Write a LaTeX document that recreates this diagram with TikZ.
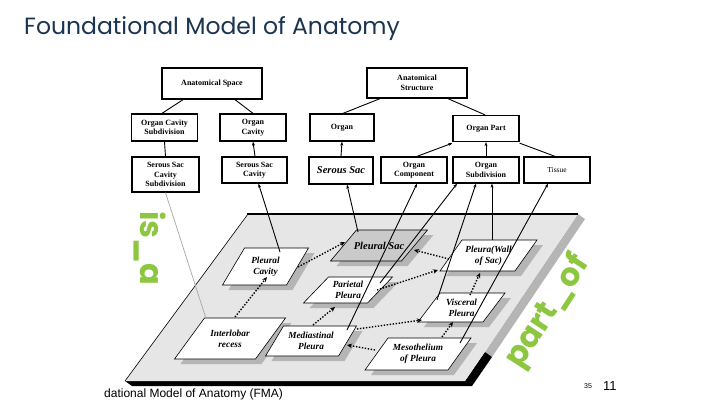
\documentclass[tikz,border=0pt]{standalone}
\usepackage{fontspec}
\setmainfont{Liberation Serif}
\newfontfamily\titlefont{Poppins}
\newfontfamily\armfont{Liberation Sans}
\usetikzlibrary{calc,arrows.meta}
\definecolor{titleblue}{HTML}{1B3550}
\definecolor{fmagreen}{HTML}{8DC63F}
\definecolor{planegray}{HTML}{E6E6E6}
\definecolor{shadowgray}{HTML}{B5B5B5}
\definecolor{sacgray}{HTML}{CACACA}
\tikzset{
  topbox/.style={draw, line width=1.3pt, fill=white, align=center, inner sep=0pt,
    font=\fontsize{8}{9.5}\selectfont\bfseries},
  plabel/.style={align=center, inner sep=0pt, font=\fontsize{9.3}{11}\selectfont\bfseries\itshape},
  link/.style={line width=0.9pt},
  isarrow/.style={link, -{Stealth[length=4pt,width=3pt]}},
  partof/.style={line width=1.4pt, dash pattern=on 1.4pt off 1.6pt, -{Stealth[length=5pt,width=4.5pt]}},
  greenlbl/.style={text=fmagreen, inner sep=0pt, font=\titlefont\bfseries\fontsize{32}{32}\selectfont}
}
% #1 name, #2 cx, #3 cy, #4 w, #5 h, #6 slant, #7 fill, #8 text
\newcommand\pgram[8]{%
  \fill[shadowgray] ({#2-#4/2+#6/2+6},{#3-#5/2+5}) -- ({#2+#4/2+#6/2+6},{#3-#5/2+5})
     -- ({#2+#4/2-#6/2+6},{#3+#5/2+5}) -- ({#2-#4/2-#6/2+6},{#3+#5/2+5}) -- cycle;
  \filldraw[fill=#7, line width=0.6pt] ({#2-#4/2+#6/2},{#3-#5/2}) -- ({#2+#4/2+#6/2},{#3-#5/2})
     -- ({#2+#4/2-#6/2},{#3+#5/2}) -- ({#2-#4/2-#6/2},{#3+#5/2}) -- cycle;
  \node[plabel] (#1) at (#2,#3) {#8};
}
\begin{document}
\begin{tikzpicture}[x=1pt,y=-1pt]
\useasboundingbox (0,0) rectangle (720,405);
\fill[white] (0,0) rectangle (720,405);

% title
\node[anchor=west, text=titleblue, inner sep=0pt, font=\titlefont\fontsize{23.5}{23.5}\selectfont] (title) at (24,29) {Foundational Model of Anatomy};

% plane with shadow
\fill[shadowgray] (578,214) -- (585,219) -- (492,357) -- (485,352) -- cycle;
\fill[black] (125,381) -- (465,381) -- (485,352) -- (492,357) -- (472,386) -- (132,386) -- cycle;
\fill[planegray] (248,214) -- (578,214) -- (465,381) -- (125,381) -- cycle;
\draw[line width=0.6pt] (125,381) -- (248,214);
\draw[line width=1.8pt] (247,214) -- (578,214);

% green labels
\node[greenlbl, rotate=-90] (isa) at (150,248) {is\_a};
\node[greenlbl, rotate=57] (partof) at (548,312) {part\_of};

% plane nodes
\pgram{pcav}{265.5}{266.5}{64}{37}{22}{white}{Pleural\\Cavity}
\pgram{ilr}{230}{338.5}{81}{41}{30}{white}{Interlobar\\recess}
\pgram{psac}{379}{245.5}{71}{31}{26}{sacgray}{\fontsize{10.5}{12}\selectfont Pleural Sac}
\pgram{ppar}{348}{290}{64}{26}{25}{white}{Parietal\\Pleura}
\pgram{pmed}{311}{341}{73}{30}{18}{white}{Mediastinal\\Pleura}
\pgram{pwall}{488.5}{255.5}{75}{31}{22}{white}{Pleura(Wall\\of Sac)}
\pgram{pvisc}{461.5}{307.5}{65}{29}{22}{white}{Visceral\\Pleura}
\pgram{pmeso}{418}{354}{83}{32}{23}{white}{Mesothelium\\of Pleura}

% top boxes
\node[topbox, minimum width=100pt, minimum height=31pt] (aspace) at (212,83.5) {Anatomical Space};
\node[topbox, minimum width=100pt, minimum height=30pt] (astruct) at (417,83) {Anatomical\\Structure};
\node[topbox, minimum width=66pt, minimum height=27pt] (ocs) at (164.5,127.5) {Organ Cavity\\Subdivision};
\node[topbox, minimum width=66pt, minimum height=27pt] (ocav) at (253,127.5) {Organ\\Cavity};
\node[topbox, minimum width=64pt, minimum height=27pt] (organ) at (342,127.5) {Organ};
\node[topbox, minimum width=66pt, minimum height=26pt] (opart) at (486,128.5) {Organ Part};
\node[topbox, minimum width=67pt, minimum height=35pt] (sscs) at (165.5,174.5) {Serous Sac\\Cavity\\Subdivision};
\node[topbox, minimum width=65pt, minimum height=26pt] (ssc) at (254.5,170) {Serous Sac\\Cavity};
\node[topbox, minimum width=64pt, minimum height=27pt, font=\fontsize{10.5}{12}\selectfont\bfseries\itshape] (ssac) at (341,170.5) {Serous Sac};
\node[topbox, minimum width=66pt, minimum height=26pt] (ocomp) at (414,170) {Organ\\Component};
\node[topbox, minimum width=66pt, minimum height=26pt] (osub) at (486,170) {Organ\\Subdivision};
\node[topbox, minimum width=66pt, minimum height=26pt, font=\fontsize{7.5}{9}\selectfont] (tissue) at (557,170) {Tissue};

% top connectors
\draw[link] ($(aspace.south)+(-29,0)$) -- ($(ocs.north)+(-2.5,0)$);
\draw[link] ($(aspace.south)+(23,0)$) -- (ocav.north);
\draw[link] ($(astruct.south)+(-37,0)$) -- ($(organ.north)+(1,0)$);
\draw[link] ($(astruct.south)+(31,0)$) -- ($(opart.north)+(-1,0)$);
\draw[link] (sscs.north) -- (ocs.south);
\draw[isarrow] ($(ssc.north)+(0.5,0)$) -- (ocav.south);
\draw[isarrow] (ssac.north) -- (organ.south);
\draw[isarrow] ($(ocomp.north)+(3,0)$) -- ($(opart.south west)+(0,1)$);
\draw[isarrow] (osub.north) -- (opart.south);
\draw[link] ($(tissue.north)+(-2,0)$) -- ($(opart.south east)+(0,1)$);

% plane-to-top connectors
\draw[line width=0.7pt, gray!70] ($(ilr)+(-24,-20)$) -- (sscs.south);
\draw[isarrow] ($(pcav)+(14.5,-14.5)$) -- ($(ssc.south)+(4,0)$);
\draw[isarrow] ($(psac)+(-21,-13.5)$) -- ($(ssac.south)+(6,0)$);
\draw[isarrow] ($(pmed)+(36,-11)$) -- ($(ocomp.south)+(3,0)$);
\draw[isarrow] ($(ppar)+(32,-7)$) -- ($(osub.south)+(-29,0)$);
\draw[isarrow] ($(pvisc)+(-24.5,-7.5)$) -- ($(osub.south)+(-10,0)$);
\draw[isarrow] ($(pwall)+(3.5,-15.5)$) -- ($(osub.south)+(6,0)$);
\draw[isarrow] ($(pmeso)+(42,-11)$) -- ($(tissue.south)+(-9,0)$);

% part_of dotted arrows
\draw[partof] ($(pcav)+(32.5,0.5)$) -- ($(psac)+(-34,-3.5)$);
\draw[partof] ($(ilr)+(5,-21.5)$) -- ($(pcav)+(1.5,10.5)$);
\draw[partof] ($(pwall)+(-39.5,3.5)$) -- ($(psac)+(35,4.5)$);
\draw[partof] ($(ppar)+(29,0)$) -- ($(pwall)+(-50.5,14.5)$);
\draw[partof] ($(pmed)+(2,-16)$) -- ($(ppar)+(-13,17)$);
\draw[partof] ($(pmed)+(46,-12)$) -- ($(pvisc)+(-39.5,12.5)$);
\draw[partof] ($(pmeso)+(-43,-4)$) -- ($(pmed)+(36,4)$);
\draw[partof] ($(pmeso)+(24,-17)$) -- ($(pvisc)+(-8.5,14.5)$);
\draw[partof] ($(pvisc)+(8.5,-12.5)$) -- ($(pwall)+(-8.5,17.5)$);

% footer
\node[anchor=west, inner sep=0pt, font=\armfont\fontsize{12}{12}\selectfont] (foot) at (104,394) {dational Model of Anatomy (FMA)};
\node[anchor=west, inner sep=0pt, font=\armfont\fontsize{7}{7}\selectfont] (pg1) at (584,386) {35};
\node[anchor=west, inner sep=0pt, font=\armfont\fontsize{13}{13}\selectfont] (pg2) at (603,386) {11};
\end{tikzpicture}
\end{document}
